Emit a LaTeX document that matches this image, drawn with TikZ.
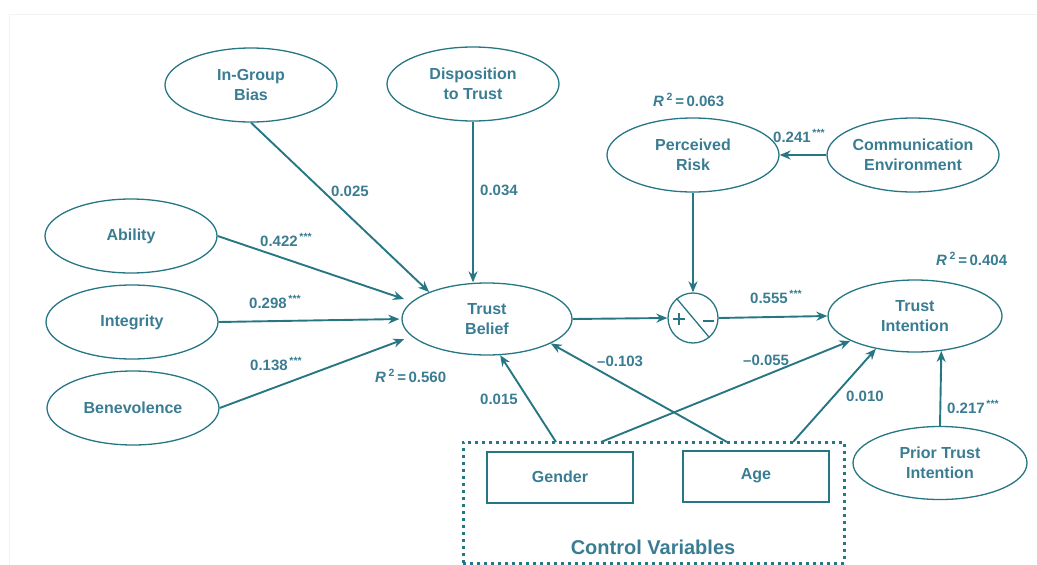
\documentclass[tikz,border=0pt]{standalone}
\usepackage{fontspec}
\setmainfont{Liberation Sans}
\usetikzlibrary{shapes.geometric,arrows.meta,calc}
\definecolor{linec}{RGB}{38,118,132}
\definecolor{textc}{RGB}{58,124,146}
\definecolor{edgec}{RGB}{242,242,242}
\tikzset{
  latent/.style={ellipse,draw=linec,line width=1.3pt,minimum width=172pt,minimum height=74pt,
    inner sep=0pt,align=center,text=textc,font=\fontsize{16}{20}\selectfont\bfseries},
  observed/.style={rectangle,draw=linec,line width=2pt,minimum width=146pt,minimum height=51pt,
    inner sep=0pt,text=textc,font=\fontsize{16}{20}\selectfont\bfseries},
  path/.style={draw=linec,line width=1.9pt,-{Stealth[length=11pt,width=9pt]}},
  coef/.style={anchor=west,inner sep=0pt,text=textc,font=\fontsize{15}{18}\selectfont\bfseries},
  rsq/.style={coef},
  group/.style={rectangle,draw=linec,line width=3pt,dash pattern=on 2.8pt off 4.2pt,
    minimum width=381pt,minimum height=121pt,inner sep=0pt},
}
\newcommand{\sig}{\textsuperscript{\,***}}
\newcommand{\rsqr}[1]{{\itshape R}\,\textsuperscript{2}\,=\,#1}
\begin{document}
\begin{tikzpicture}[x=1pt,y=-1pt]
\useasboundingbox (0,0) rectangle (1037,565);
\draw[edgec,line width=1pt] (9,566) -- (9,14) -- (1040,14);

% latent constructs
\node[latent] (ibias) at (251,85) {In-Group\\Bias};
\node[latent] (disp)  at (473,84) {Disposition\\to Trust};
\node[latent] (abil)  at (131,236) {Ability};
\node[latent] (integ) at (132,322) {Integrity};
\node[latent] (benev) at (133,408) {Benevolence};
\node[latent,minimum width=170pt,minimum height=72pt] (tb) at (487,319) {Trust\\Belief};
\node[latent] (pr)    at (693,155) {Perceived\\Risk};
\node[latent] (ce)    at (913,155) {Communication\\Environment};
\node[latent,minimum width=174pt,minimum height=72pt] (ti) at (915,316) {Trust\\Intention};
\node[latent,minimum width=174pt,minimum height=73pt] (pti) at (940,463) {Prior Trust\\Intention};

% moderation junction
\node[circle,draw=linec,line width=1.3pt,minimum size=50pt,inner sep=0pt] (pm) at (693,318) {};
\draw[linec,line width=1.3pt] (pm.130) -- (pm.-50);
\draw[linec,line width=1.8pt] ($(pm.center)+(-20,1)$) -- ($(pm.center)+(-8,1)$)
  ($(pm.center)+(-14,-5)$) -- ($(pm.center)+(-14,7)$);
\draw[linec,line width=1.8pt] ($(pm.center)+(10,3)$) -- ($(pm.center)+(21,3)$);

% control variables
\node[group] (ctrl) at (653.5,502.5) {};
\node[observed] (gender) at (560,477) {Gender};
\node[observed] (age) at (756,476) {Age};
\node[text=textc,font=\fontsize{20}{24}\selectfont\bfseries] (ctrllab) at (653,547) {Control Variables};
\coordinate (g1) at (556,442);
\coordinate (g2) at (601,442);
\coordinate (a1) at (727,442);
\coordinate (a2) at (793,442);

% structural paths
\draw[path] (ibias.south) -- (tb.155);
\draw[path] (disp.south) -- (disp.south |- tb.north);
\draw[path,shorten >=8pt] (abil.east) -- (tb.167);
\draw[path,shorten >=2pt] (integ.east) -- (tb.west);
\draw[path,shorten >=8pt] (benev.east) -- (tb.193);
\draw[path] (tb.east) -- (pm.west);
\draw[path] (pr.south) -- (pm.north);
\draw[path] (pm.east) -- (ti.west);
\draw[path] (ce.west) -- (pr.east);
\draw[path] (pti.north) -- (ti.-53);
\draw[path] (g1) -- (tb.-70);
\draw[path] (a1) -- (tb.-21);
\draw[path] (g2) -- (ti.201);
\draw[path] (a2) -- (ti.220);

% path coefficients
\node[coef] (c1)  at (331,191) {0.025};
\node[coef] (c2)  at (480,190) {0.034};
\node[coef] (c3)  at (260,240) {0.422\sig};
\node[coef] (c4)  at (249,302) {0.298\sig};
\node[coef] (c5)  at (250,364) {0.138\sig};
\node[coef] (c6)  at (480,399) {0.015};
\node[coef] (c7)  at (597,361) {\textendash0.103};
\node[coef] (c8)  at (743,360) {\textendash0.055};
\node[coef] (c9)  at (846,396) {0.010};
\node[coef] (c10) at (947,407) {0.217\sig};
\node[coef] (c11) at (750,297) {0.555\sig};
\node[coef] (c12) at (773,136) {0.241\sig};

% explained variance
\node[rsq] (r1) at (375,376) {\rsqr{0.560}};
\node[rsq] (r2) at (653,100) {\rsqr{0.063}};
\node[rsq] (r3) at (936,259) {\rsqr{0.404}};
\end{tikzpicture}
\end{document}
